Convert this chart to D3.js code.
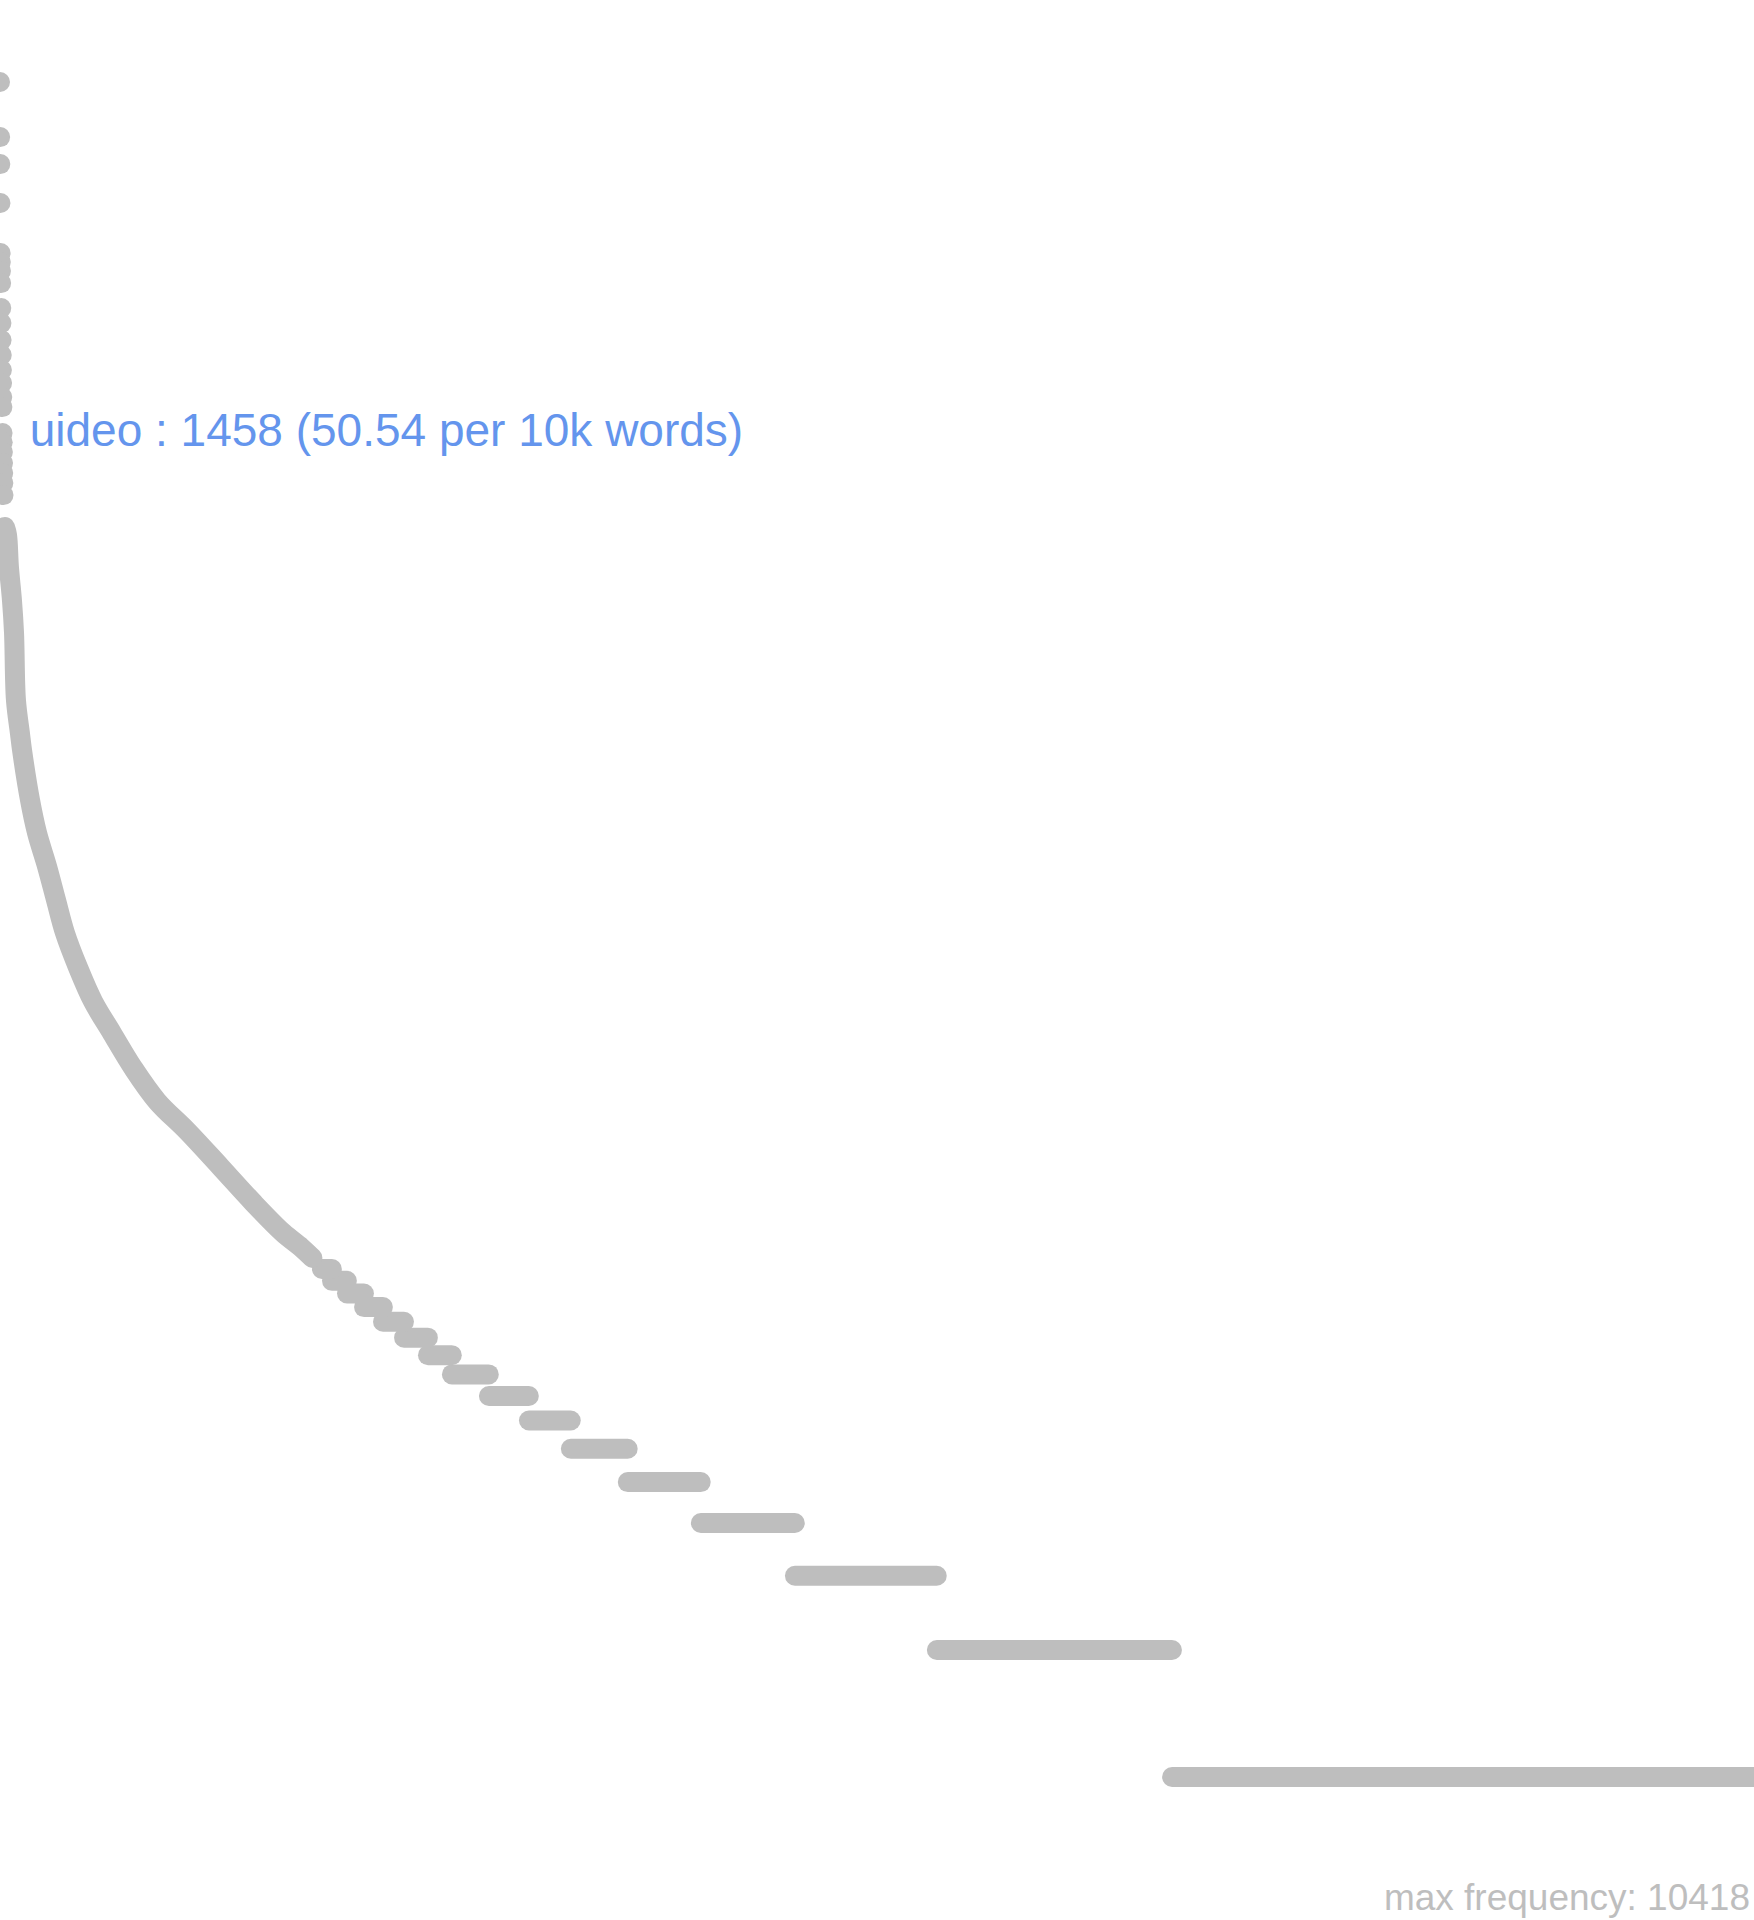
<!DOCTYPE html>
<html>
<head>
<meta charset="utf-8">
<script src="https://cdn.jsdelivr.net/npm/d3@7"></script>
<style>
  body { margin: 0; background: #fff; }
  svg { display: block; }
</style>
</head>
<body>
<svg id="chart" width="1754" height="1920"></svg>
<script>
// values
var totalTypes = 11000;
var maxFrequency = 10418;

// most frequent words, one dot each (rank 1, 2, 3 ...)
var topFrequencies = [10418, 7714, 6656, 5381,
  4095, 3898, 3711, 3476,
  3033, 2795, 2547, 2348, 2163, 2014, 1866, 1767,
  1533, 1458, 1382, 1302, 1233, 1167, 1093];

// the dense part of the curve, sampled: rank -> frequency
var curveRanks = [32, 45, 57, 76, 89, 101, 126, 139, 189, 233, 296, 352, 409, 490,
  584, 703, 835, 986, 1174, 1381, 1588, 1776, 1890, 1960];
var curveFrequencies = [918, 879, 738, 616, 515, 357, 298, 272, 207, 173, 144, 120, 100, 83,
  69, 58, 48, 40, 34, 28, 23, 19.5, 18, 17];

// rare words: how many word types occur exactly n times
var spectrumFrequencies = [16, 15, 14, 13, 12, 11, 10, 9, 8, 7, 6, 5, 4, 3, 2, 1];
var spectrumTypes = [63, 94, 107, 119, 132, 150, 150, 232, 251, 263, 357, 458, 590, 890, 1475, 3650];

// highlighted word
var highlightWord = "uideo";
var highlightRank = 18;
var highlightFrequency = 1458;
var highlightPer10k = "50.54";

(function () {
  var width = 1754,
      height = 1920,
      grey = "#bebebe",
      dotR = 10;

  var svg = d3.select("#chart");

  var x = d3.scaleLinear()
    .domain([1, totalTypes])
    .range([0, width]);

  var y = d3.scaleLog()
    .domain([1, maxFrequency])
    .range([1777, 82]);

  // bands for the rare words, stacked back from the last rank
  var bands = [],
      last = totalTypes;
  for (var i = spectrumFrequencies.length - 1; i >= 0; i--) {
    bands.push({
      freq: spectrumFrequencies[i],
      from: last - spectrumTypes[i] + 1,
      to: last
    });
    last -= spectrumTypes[i];
  }

  svg.selectAll("line.band")
    .data(bands)
    .enter().append("line")
    .attr("class", "band")
    .attr("x1", function (d) { return x(d.from); })
    .attr("x2", function (d) { return x(d.to); })
    .attr("y1", function (d) { return y(d.freq); })
    .attr("y2", function (d) { return y(d.freq); })
    .style("stroke", grey)
    .style("stroke-width", dotR * 2)
    .style("stroke-linecap", "round");

  var curve = curveRanks.map(function (r, i) {
    return [r, curveFrequencies[i]];
  });

  var line = d3.line()
    .x(function (d) { return x(d[0]); })
    .y(function (d) { return y(d[1]); })
    .curve(d3.curveCatmullRom.alpha(0.5));

  svg.append("path")
    .datum(curve)
    .attr("d", line)
    .style("fill", "none")
    .style("stroke", grey)
    .style("stroke-width", dotR * 2)
    .style("stroke-linecap", "round")
    .style("stroke-linejoin", "round");

  svg.selectAll("circle")
    .data(topFrequencies)
    .enter().append("circle")
    .attr("cx", function (d, i) { return x(i + 1); })
    .attr("cy", function (d) { return y(d); })
    .attr("r", dotR)
    .style("fill", grey);

  svg.append("text")
    .attr("x", x(highlightRank) + 27)
    .attr("y", y(highlightFrequency) + 4)
    .style("font-family", "'Liberation Sans', Arial, Helvetica, sans-serif")
    .style("font-size", "46px")
    .style("fill", "#6495ed")
    .text(highlightWord + " : " + highlightFrequency + " (" + highlightPer10k + " per 10k words)");

  svg.append("text")
    .attr("x", width - 4)
    .attr("y", 1910)
    .attr("text-anchor", "end")
    .style("font-family", "'Liberation Sans', Arial, Helvetica, sans-serif")
    .style("font-size", "37px")
    .style("fill", grey)
    .text("max frequency: " + maxFrequency);
})();
</script>
</body>
</html>
